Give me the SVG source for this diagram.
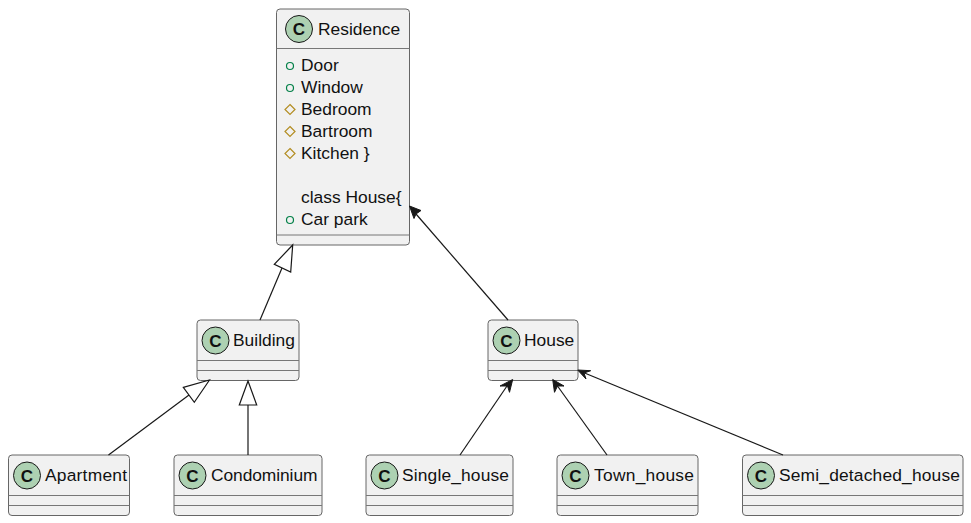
<svg xmlns="http://www.w3.org/2000/svg" width="971" height="523" viewBox="0 0 971 523">
<style>
text{font-family:"Liberation Sans",Arial,sans-serif;font-size:17.4px;fill:#111}
.box{fill:#F1F1F1;stroke:#666;stroke-width:1}
.sep{stroke:#777;stroke-width:1;fill:none}
.spot{fill:#ADD1B2;stroke:#181818;stroke-width:1}
.c{font-size:17px;font-weight:bold;text-anchor:middle}
.pub{fill:none;stroke:#038048;stroke-width:1.2}
.prot{fill:none;stroke:#B38D22;stroke-width:1.2}
.link{stroke:#181818;stroke-width:1.2;fill:none}
.hollow{fill:#fff;stroke:#181818;stroke-width:1.2}
.head{fill:#181818;stroke:#181818;stroke-width:1}
</style>
<rect width="971" height="523" fill="#fff"/>
<g id="Residence">
<rect class="box" x="276.500" y="9" width="133" height="236" rx="3.500"/>
<circle class="spot" cx="299" cy="29" r="13.500"/><text class="c" x="299" y="35">C</text>
<text x="318" y="35">Residence</text>
<path class="sep" d="M276.500 48.500H409.500M276.500 235H409.500"/>
<circle class="pub" cx="290" cy="66" r="3.500"/><text x="301" y="71">Door</text>
<circle class="pub" cx="290" cy="88" r="3.500"/><text x="301" y="93">Window</text>
<polygon class="prot" points="290,104.500 295,109.500 290,114.500 285,109.500"/><text x="301" y="115">Bedroom</text>
<polygon class="prot" points="290,126.500 295,131.500 290,136.500 285,131.500"/><text x="301" y="137">Bartroom</text>
<polygon class="prot" points="290,148.500 295,153.500 290,158.500 285,153.500"/><text x="301" y="159">Kitchen }</text>
<text x="301" y="203">class House{</text>
<circle class="pub" cx="290" cy="220" r="3.500"/><text x="301" y="225">Car park</text>
</g>
<g id="Building">
<rect class="box" x="197" y="320" width="102" height="60.500" rx="3.500"/>
<circle class="spot" cx="215.500" cy="340.500" r="13.500"/><text class="c" x="215.500" y="346.500">C</text>
<text x="233" y="346">Building</text>
<path class="sep" d="M197 360.500H299M197 370.500H299"/>
</g>
<g id="House">
<rect class="box" x="488" y="320" width="90" height="60.500" rx="3.500"/>
<circle class="spot" cx="506.500" cy="340.500" r="13.500"/><text class="c" x="506.500" y="346.500">C</text>
<text x="524" y="346">House</text>
<path class="sep" d="M488 360.500H578M488 370.500H578"/>
</g>
<g id="Apartment">
<rect class="box" x="8.500" y="455" width="121" height="60.500" rx="3.500"/>
<circle class="spot" cx="27" cy="475.500" r="13.500"/><text class="c" x="27" y="481.500">C</text>
<text x="45" y="481" textLength="82">Apartment</text>
<path class="sep" d="M8.500 495.500H129.500M8.500 505.500H129.500"/>
</g>
<g id="Condominium">
<rect class="box" x="174" y="455" width="148" height="60.500" rx="3.500"/>
<circle class="spot" cx="192.500" cy="475.500" r="13.500"/><text class="c" x="192.500" y="481.500">C</text>
<text x="211" y="481" textLength="106.500">Condominium</text>
<path class="sep" d="M174 495.500H322M174 505.500H322"/>
</g>
<g id="Single_house">
<rect class="box" x="366" y="455" width="147" height="60.500" rx="3.500"/>
<circle class="spot" cx="384.500" cy="475.500" r="13.500"/><text class="c" x="384.500" y="481.500">C</text>
<text x="402" y="481" textLength="107">Single_house</text>
<path class="sep" d="M366 495.500H513M366 505.500H513"/>
</g>
<g id="Town_house">
<rect class="box" x="557" y="455" width="141" height="60.500" rx="3.500"/>
<circle class="spot" cx="575.500" cy="475.500" r="13.500"/><text class="c" x="575.500" y="481.500">C</text>
<text x="594" y="481" textLength="100">Town_house</text>
<path class="sep" d="M557 495.500H698M557 505.500H698"/>
</g>
<g id="Semi_detached_house">
<rect class="box" x="742.500" y="455" width="220.500" height="60.500" rx="3.500"/>
<circle class="spot" cx="761" cy="475.500" r="13.500"/><text class="c" x="761" y="481.500">C</text>
<text x="779" y="481" textLength="181">Semi_detached_house</text>
<path class="sep" d="M742.500 495.500H963M742.500 505.500H963"/>
</g>
<g id="connectors">
<path class="link" d="M260 320L282 268"/><polygon class="hollow" points="292.700,245 290.700,272 274.300,264.300"/>
<path class="link" d="M108.500 455L189 395"/><polygon class="hollow" points="209.500,380 194.300,402.300 183.300,387.300"/>
<path class="link" d="M248 455V405"/><polygon class="hollow" points="248,381 256.700,405 239.300,405"/>
<path class="link" d="M508 320L416 214"/><polygon class="head" points="409.500,206 421,210.500 416,214 414,218.500"/>
<path class="link" d="M460 455L507 386"/><polygon class="head" points="512.700,379.500 509.500,392.300 507.500,386 500,386"/>
<path class="link" d="M607 455L557.500 386"/><polygon class="head" points="552.700,379.500 564,386 557.500,386 554.500,392.300"/>
<path class="link" d="M783 455L584 372.700"/><polygon class="head" points="577.700,370 590.700,370.700 584,373 586,379"/>
</g>
</svg>
